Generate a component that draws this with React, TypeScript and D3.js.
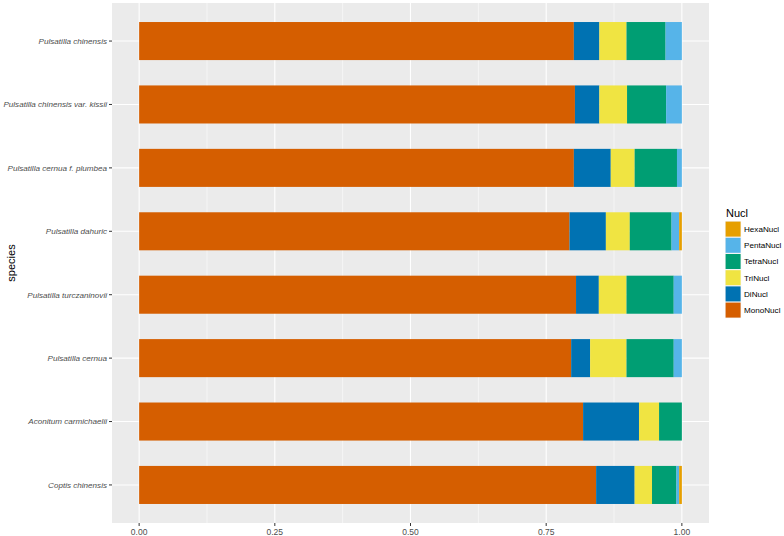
import React from "react";
import * as d3 from "d3";

const species = [
  "Pulsatilla chinensis",
  "Pulsatilla chinensis var. kissii",
  "Pulsatilla cernua f. plumbea",
  "Pulsatilla dahuric",
  "Pulsatilla turczaninovii",
  "Pulsatilla cernua",
  "Aconitum carmichaelii",
  "Coptis chinensis",
];
const nuclTypes = ["MonoNucl", "DiNucl", "TriNucl", "TetraNucl", "PentaNucl", "HexaNucl"];
const monoNucl = [0.801, 0.803, 0.801, 0.793, 0.805, 0.796, 0.818, 0.842];
const diNucl = [0.047, 0.045, 0.068, 0.067, 0.042, 0.035, 0.103, 0.071];
const triNucl = [0.05, 0.051, 0.044, 0.044, 0.051, 0.067, 0.037, 0.032];
const tetraNucl = [0.072, 0.072, 0.078, 0.077, 0.087, 0.087, 0.042, 0.045];
const pentaNucl = [0.03, 0.029, 0.009, 0.014, 0.015, 0.015, 0, 0.005];
const hexaNucl = [0, 0, 0, 0.005, 0, 0, 0, 0.005];
const xTicks = [0, 0.25, 0.5, 0.75, 1];
const xTickLabels = ["0.00", "0.25", "0.50", "0.75", "1.00"];
const colors: Record<string, string> = {
  MonoNucl: "#D55E00",
  DiNucl: "#0072B2",
  TriNucl: "#F0E442",
  TetraNucl: "#009E73",
  PentaNucl: "#56B4E9",
  HexaNucl: "#E69F00",
};

const W = 784, H = 536;
const P = { left: 112, right: 709, top: 3, bottom: 523 };
const font = "Liberation Sans, Arial, sans-serif";

export default function App() {
  const seriesVals = [monoNucl, diNucl, triNucl, tetraNucl, pentaNucl, hexaNucl];
  const rows = species.map((s, i) => {
    const r: any = { species: s };
    nuclTypes.forEach((k, j) => (r[k] = seriesVals[j][i]));
    return r;
  });
  const stacked = d3.stack().keys(nuclTypes)(rows);
  const x = d3.scaleLinear().domain([-0.05, 1.05]).range([P.left, P.right]);
  const step = (P.bottom - P.top) / (species.length - 1 + 1.2);
  const yc = (s: string) => P.top + step * (0.6 + species.indexOf(s));
  const bh = step * 0.6;
  const minor = [0.125, 0.375, 0.625, 0.875];
  const legendOrder = [...nuclTypes].reverse();

  return (
    <svg width={W} height={H} style={{ position: "absolute", left: 0, top: 0, background: "white" }}>
      <rect x={P.left} y={P.top} width={P.right - P.left} height={P.bottom - P.top} fill="#EBEBEB" />
      {minor.map((v) => (
        <line key={"m" + v} x1={x(v)} x2={x(v)} y1={P.top} y2={P.bottom} stroke="white" strokeWidth={0.55} />
      ))}
      {xTicks.map((v) => (
        <line key={"g" + v} x1={x(v)} x2={x(v)} y1={P.top} y2={P.bottom} stroke="white" strokeWidth={1.1} />
      ))}
      {species.map((s) => (
        <line key={"h" + s} x1={P.left} x2={P.right} y1={yc(s)} y2={yc(s)} stroke="white" strokeWidth={1.1} />
      ))}
      {stacked.map((layer) => (
        <g key={layer.key} fill={colors[layer.key]}>
          {layer.map((d, i) => (
            <rect
              key={i}
              x={x(d[0])}
              width={Math.max(0, x(d[1]) - x(d[0]))}
              y={yc(species[i]) - bh / 2}
              height={bh}
            />
          ))}
        </g>
      ))}
      {xTicks.map((v, i) => (
        <g key={"t" + v}>
          <line x1={x(v)} x2={x(v)} y1={P.bottom} y2={P.bottom + 3} stroke="#333" strokeWidth={1} />
          <text x={x(v)} y={P.bottom + 12} textAnchor="middle" fontSize={8.5} fill="#4D4D4D" fontFamily={font}>
            {xTickLabels[i]}
          </text>
        </g>
      ))}
      {species.map((s) => (
        <g key={"y" + s}>
          <line x1={P.left - 3} x2={P.left} y1={yc(s)} y2={yc(s)} stroke="#333" strokeWidth={1} />
          <text
            x={P.left - 5}
            y={yc(s)}
            dy="0.35em"
            textAnchor="end"
            fontSize={8.1}
            fontStyle="italic"
            fill="#4D4D4D"
            fontFamily={font}
          >
            {s}
          </text>
        </g>
      ))}
      <text
        transform={`translate(15,${(P.top + P.bottom) / 2}) rotate(-90)`}
        textAnchor="middle"
        fontSize={11}
        fill="black"
        fontFamily={font}
      >
        species
      </text>
      <text x={726} y={217} fontSize={11} fill="black" fontFamily={font}>
        Nucl
      </text>
      {legendOrder.map((k, i) => (
        <g key={"l" + k} transform={`translate(725,${221 + i * 16.2})`}>
          <rect x={0} y={0} width={16.2} height={16.2} fill="#F2F2F2" />
          <rect x={0.6} y={0.6} width={15} height={15} fill={colors[k]} />
          <text x={19} y={8.1} dy="0.35em" fontSize={8.1} fill="black" fontFamily={font}>
            {k}
          </text>
        </g>
      ))}
    </svg>
  );
}
